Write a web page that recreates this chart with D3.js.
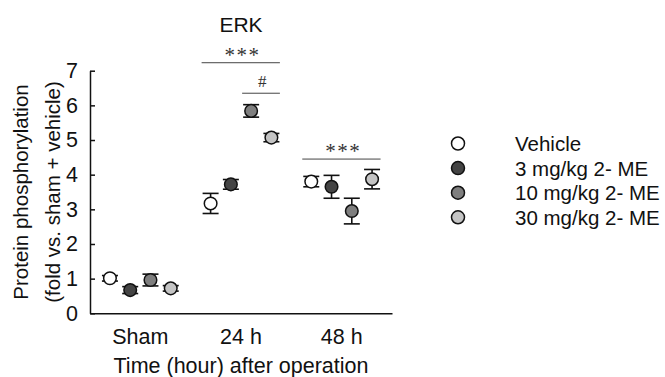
<!DOCTYPE html>
<html>
<head>
<meta charset="utf-8">
<title>ERK</title>
<script src="https://d3js.org/d3.v7.min.js"></script>
<style>
  body { margin: 0; padding: 0; background: #fff; }
  text { font-family: "Liberation Sans", Arial, sans-serif; fill: #111; }
  .sig { font-family: "Liberation Serif", "Times New Roman", serif; fill: #333; }
</style>
</head>
<body>
<div id="chart"></div>
<script>
// categories and series
var groups = ["Sham", "24 h", "48 h"];
var series = ["Vehicle", "3 mg/kg 2- ME", "10 mg/kg 2- ME", "30 mg/kg 2- ME"];
var fills = ["#ffffff", "#444444", "#7f7f7f", "#c4c4c4"];

// means per group (Sham, 24 h, 48 h) for each series
var vehicle = [1.01, 3.17, 3.80];
var mg3     = [0.67, 3.72, 3.65];
var mg10    = [0.96, 5.84, 2.95];
var mg30    = [0.72, 5.07, 3.87];
// standard errors
var vehicleErr = [0.08, 0.29, 0.15];
var mg3Err     = [0.10, 0.14, 0.33];
var mg10Err    = [0.17, 0.18, 0.37];
var mg30Err    = [0.08, 0.12, 0.28];

var yTicks = [0, 1, 2, 3, 4, 5, 6, 7];

// significance marks: group, first and last series, level, label
var sigs = [
  {group: "24 h", from: 0, to: 3, level: 7.23, label: "***"},
  {group: "24 h", from: 2, to: 3, level: 6.35, label: "#"},
  {group: "48 h", from: 0, to: 3, level: 4.45, label: "***"}
];

var means = [vehicle, mg3, mg10, mg30];
var errs = [vehicleErr, mg3Err, mg10Err, mg30Err];

var data = [];
series.forEach(function(s, i) {
  groups.forEach(function(g, j) {
    data.push({series: s, idx: i, group: g, value: means[i][j], err: errs[i][j]});
  });
});

var W = 665, H = 377;
var margin = {left: 90, top: 70.7, right: 273, bottom: 63.7};
var width = W - margin.left - margin.right,
    height = H - margin.top - margin.bottom;

var svg = d3.select("#chart").append("svg")
    .attr("width", W).attr("height", H);
var g = svg.append("g")
    .attr("transform", "translate(" + margin.left + "," + margin.top + ")");

var x = d3.scaleBand().domain(groups).range([0, width]);
var xi = d3.scalePoint().domain(series).range([x.bandwidth() / 2 - 30.4, x.bandwidth() / 2 + 30.4]);
var y = d3.scaleLinear().domain([0, 7]).range([height, 0]);

function px(d) { return x(d.group) + xi(d.series); }

// y axis, ticks pointing inward
var yAxis = g.append("g")
  .call(d3.axisLeft(y).tickValues(yTicks).tickFormat(d3.format("d"))
    .tickSize(-5).tickPadding(12).tickSizeOuter(0));
yAxis.select(".domain").attr("stroke", "#111").attr("stroke-width", 1.5);
yAxis.selectAll(".tick line").attr("stroke", "#111").attr("stroke-width", 1.5);
yAxis.selectAll(".tick text").style("font-size", "21.5px").attr("fill", "#111")
  .attr("font-family", "Liberation Sans, Arial, sans-serif");

// x axis, no ticks
var xAxis = g.append("g")
  .attr("transform", "translate(0," + height + ")")
  .call(d3.axisBottom(x).tickSize(0).tickPadding(15));
xAxis.select(".domain").attr("stroke", "#111").attr("stroke-width", 1.5);
xAxis.selectAll(".tick text").style("font-size", "21.5px").attr("fill", "#111")
  .attr("font-family", "Liberation Sans, Arial, sans-serif");

// axis titles
g.append("text")
  .attr("x", width / 2).attr("y", height + 60)
  .attr("text-anchor", "middle")
  .style("font-size", "21.5px")
  .text("Time (hour) after operation");

var yt = g.append("text")
  .attr("transform", "translate(" + (-margin.left + 28) + "," + (height / 2) + ") rotate(-90)")
  .attr("text-anchor", "middle")
  .style("font-size", "20.5px");
yt.append("tspan").attr("x", 0).attr("dy", 0).text("Protein phosphorylation");
yt.append("tspan").attr("x", 0).attr("dy", "1.55em").text("(fold vs. sham + vehicle)");

// title
g.append("text")
  .attr("x", x("24 h") + x.bandwidth() / 2).attr("y", -38.5)
  .attr("text-anchor", "middle")
  .style("font-size", "21px")
  .text("ERK");

// error bars
var eb = g.append("g").selectAll("g").data(data).enter().append("g")
  .attr("stroke", "#111").attr("stroke-width", 1.6);
eb.append("line")
  .attr("x1", px).attr("x2", px)
  .attr("y1", function(d) { return y(d.value - d.err); })
  .attr("y2", function(d) { return y(d.value + d.err); });
[-1, 1].forEach(function(s) {
  eb.append("line")
    .attr("x1", function(d) { return px(d) - 8; })
    .attr("x2", function(d) { return px(d) + 8; })
    .attr("y1", function(d) { return y(d.value + s * d.err); })
    .attr("y2", function(d) { return y(d.value + s * d.err); });
});

// points
g.append("g").selectAll("circle").data(data).enter().append("circle")
  .attr("cx", px)
  .attr("cy", function(d) { return y(d.value); })
  .attr("r", 6.3)
  .attr("fill", function(d) { return fills[d.idx]; })
  .attr("stroke", "#111").attr("stroke-width", 1.5);

// significance lines
var sg = g.append("g").selectAll("g").data(sigs).enter().append("g");
sg.append("line")
  .attr("x1", function(d) { return x(d.group) + xi(series[d.from]) - 9; })
  .attr("x2", function(d) { return x(d.group) + xi(series[d.to]) + 8.5; })
  .attr("y1", function(d) { return y(d.level); })
  .attr("y2", function(d) { return y(d.level); })
  .attr("stroke", "#444").attr("stroke-width", 1);
sg.append("text")
  .attr("class", "sig")
  .attr("x", function(d) {
    return (x(d.group) + xi(series[d.from]) + x(d.group) + xi(series[d.to])) / 2 + (d.label === "#" ? 1 : 1.5);
  })
  .attr("y", function(d) { return y(d.level) - (d.label === "#" ? 6 : 1); })
  .attr("text-anchor", "middle")
  .style("font-size", function(d) { return d.label === "#" ? "17px" : "21px"; })
  .style("letter-spacing", function(d) { return d.label === "#" ? "0px" : "1.5px"; })
  .text(function(d) { return d.label; });

// legend
var lg = svg.append("g").attr("transform", "translate(458,143.5)");
var li = lg.selectAll("g").data(series).enter().append("g")
  .attr("transform", function(d, i) { return "translate(0," + i * 24.6 + ")"; });
li.append("circle").attr("r", 6.5)
  .attr("fill", function(d, i) { return fills[i]; })
  .attr("stroke", "#111").attr("stroke-width", 1.5);
li.append("text").attr("x", 57).attr("y", 7.5)
  .style("font-size", "20.5px")
  .text(function(d) { return d; });
</script>
</body>
</html>
